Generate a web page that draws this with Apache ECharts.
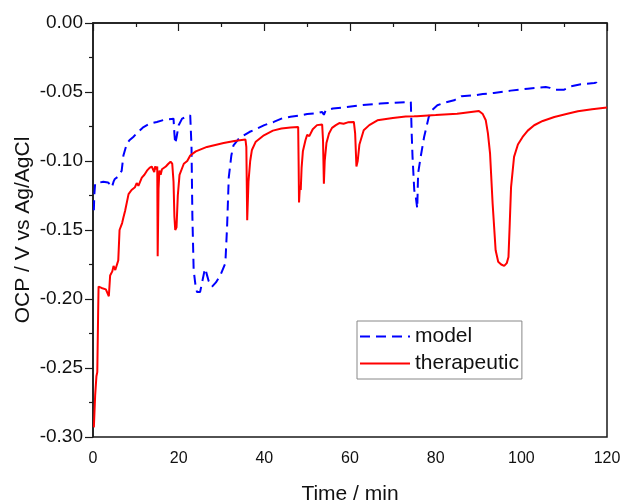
<!DOCTYPE html>
<html><head><meta charset="utf-8">
<script src="https://cdn.jsdelivr.net/npm/echarts@6/dist/echarts.min.js"></script>
<style>html,body{margin:0;padding:0;background:#fff}#c{width:622px;height:500px}</style>
</head><body><div id="c"></div>
<script>
const xTicks = [0, 20, 40, 60, 80, 100, 120];
const yTicks = [-0.30, -0.25, -0.20, -0.15, -0.10, -0.05, 0.00];

const modelTime = [0.2,0.3,0.5,1.0,2.4,3.5,4.0,4.4,4.8,5.1,5.5,6.0,6.7,7.1,7.9,8.5,9.4,10.5,11.8,13.2,14.9,16.8,18.8,19.0,19.2,19.5,20.0,20.8,21.8,22.7,23.0,23.2,23.5,24.0,24.3,25.0,25.4,26.0,26.2,27.0,27.8,28.7,29.7,30.9,31.3,31.7,32.3,32.8,34.0,35.2,36.5,38.3,40.0,42.2,44.0,46.1,48.0,50.0,52.0,53.5,53.9,54.3,56.0,59.3,63.0,67.1,70.5,74.2,74.4,74.6,75.0,75.4,75.6,75.7,75.9,76.5,77.3,78.4,79.2,80.4,82.0,84.3,86.0,89.0,91.0,93.6,97.5,101.5,105.7,106.7,107.7,110.0,111.6,113.9,117.0,117.5,117.9];
const modelOCP = [-0.1357,-0.125,-0.1164,-0.116,-0.115,-0.1155,-0.117,-0.119,-0.115,-0.113,-0.1116,-0.111,-0.107,-0.096,-0.0874,-0.085,-0.0826,-0.079,-0.0754,-0.073,-0.0717,-0.070,-0.0693,-0.080,-0.0874,-0.083,-0.0741,-0.0693,-0.068,-0.0669,-0.090,-0.140,-0.179,-0.192,-0.195,-0.195,-0.195,-0.180,-0.178,-0.187,-0.191,-0.188,-0.183,-0.174,-0.148,-0.1116,-0.096,-0.0886,-0.084,-0.0814,-0.079,-0.0765,-0.074,-0.0717,-0.0693,-0.068,-0.0672,-0.066,-0.0655,-0.0645,-0.0665,-0.0635,-0.062,-0.0609,-0.0595,-0.0584,-0.0578,-0.0572,-0.080,-0.097,-0.121,-0.127,-0.128,-0.1345,-0.109,-0.097,-0.0826,-0.068,-0.063,-0.0596,-0.0578,-0.056,-0.0531,-0.0524,-0.0515,-0.0507,-0.049,-0.0476,-0.0464,-0.047,-0.0483,-0.0483,-0.0459,-0.0444,-0.0435,-0.0432,-0.0451];

const therTime = [0.2,0.5,0.8,1.0,1.2,1.3,2.0,3.0,3.4,3.7,4.0,4.5,4.8,5.2,5.6,5.9,6.2,6.8,7.1,7.5,8.3,9.0,9.8,10.2,10.6,11.4,12.0,12.6,13.2,13.7,14.0,14.3,14.5,14.8,15.0,15.1,15.3,15.5,15.8,16.1,16.5,17.0,17.6,18.1,18.5,18.8,19.0,19.2,19.5,19.8,20.2,21.2,22.0,22.7,24.0,26.6,30.5,33.0,35.6,35.8,36.0,36.3,36.7,37.1,38.0,39.9,42.0,44.0,46.1,47.9,48.0,48.1,48.3,48.5,48.7,49.0,49.6,50.0,50.5,51.3,52.3,53.5,53.7,53.9,54.1,54.5,55.1,55.8,56.7,57.5,58.5,59.5,60.9,61.2,61.5,61.8,62.2,63.2,64.5,66.4,70.0,73.0,75.0,75.3,75.6,80.0,85.0,85.2,85.5,90.1,91.0,91.7,92.2,92.7,93.3,94.0,94.6,95.3,96.0,96.6,97.0,97.3,97.6,98.3,99.2,100.3,101.5,103.0,105.0,107.7,110.5,113.2,116.5,120.0];
const therOCP = [-0.293,-0.27,-0.256,-0.253,-0.21,-0.191,-0.192,-0.193,-0.194,-0.198,-0.183,-0.180,-0.176,-0.179,-0.180,-0.172,-0.150,-0.145,-0.141,-0.136,-0.124,-0.121,-0.119,-0.116,-0.118,-0.112,-0.110,-0.107,-0.105,-0.104,-0.1035,-0.108,-0.104,-0.106,-0.104,-0.169,-0.120,-0.107,-0.110,-0.106,-0.107,-0.104,-0.102,-0.1005,-0.102,-0.115,-0.140,-0.150,-0.148,-0.125,-0.110,-0.102,-0.100,-0.096,-0.093,-0.0898,-0.087,-0.0855,-0.0845,-0.09,-0.143,-0.115,-0.100,-0.092,-0.086,-0.0814,-0.078,-0.0765,-0.0758,-0.0754,-0.100,-0.130,-0.118,-0.121,-0.105,-0.093,-0.085,-0.081,-0.082,-0.077,-0.074,-0.0735,-0.085,-0.1164,-0.100,-0.087,-0.080,-0.076,-0.074,-0.0725,-0.073,-0.072,-0.0717,-0.080,-0.104,-0.100,-0.088,-0.0777,-0.074,-0.0705,-0.0688,-0.0678,-0.0676,-0.069,-0.0675,-0.0667,-0.0657,-0.0665,-0.0655,-0.0638,-0.0660,-0.0705,-0.080,-0.0947,-0.131,-0.1647,-0.173,-0.175,-0.176,-0.174,-0.1696,-0.145,-0.119,-0.097,-0.088,-0.0826,-0.078,-0.0741,-0.071,-0.0681,-0.066,-0.064,-0.0625,-0.0613];

const zip = (a, b) => a.map((v, i) => [v, b[i]]);
const axisColor = '#1a1a1a';
const font = 'Liberation Sans, Arial, sans-serif';

const chart = echarts.init(document.getElementById('c'), null, {renderer: 'canvas'});
chart.setOption({
  animation: false,
  backgroundColor: '#fff',
  grid: {left: 93, right: 15, top: 23, bottom: 63, outerBoundsMode: 'none', containLabel: false,
         show: true, borderColor: axisColor, borderWidth: 1.5, backgroundColor: 'transparent'},
  legend: {
    orient: 'vertical', left: 357, top: 321,
    data: ['model', 'therapeutic'],
    itemWidth: 50, itemHeight: 14, itemGap: 6,
    padding: [5, 3, 5, 2],
    borderColor: '#888', borderWidth: 1,
    itemStyle: {opacity: 0, borderWidth: 0},
    textStyle: {fontFamily: font, fontSize: 21, color: '#111', lineHeight: 20}
  },
  xAxis: {
    type: 'value', min: xTicks[0], max: xTicks[xTicks.length - 1], interval: 20,
    name: 'Time / min', nameLocation: 'middle', nameGap: 47, nameMoveOverlap: false,
    nameTextStyle: {fontFamily: font, fontSize: 21, color: '#111'},
    axisLine: {show: true, lineStyle: {color: axisColor, width: 1.5}},
    axisTick: {show: true, inside: false, length: 8, lineStyle: {color: axisColor, width: 1.2}},
    minorTick: {show: true, splitNumber: 2, length: 4, lineStyle: {color: axisColor, width: 1.2}},
    axisLabel: {fontFamily: font, fontSize: 16, color: '#111', margin: 14},
    splitLine: {show: false}
  },
  yAxis: {
    type: 'value', min: yTicks[0], max: yTicks[yTicks.length - 1], interval: 0.05,
    name: 'OCP / V vs Ag/AgCl', nameLocation: 'middle', nameGap: 59, nameMoveOverlap: false,
    nameTextStyle: {fontFamily: font, fontSize: 21, color: '#111'},
    axisLine: {show: true, lineStyle: {color: axisColor, width: 1.5}},
    axisTick: {show: true, inside: false, length: 8, lineStyle: {color: axisColor, width: 1.2}},
    minorTick: {show: true, splitNumber: 2, length: 4, lineStyle: {color: axisColor, width: 1.2}},
    axisLabel: {fontFamily: font, fontSize: 19, color: '#111', margin: 10, formatter: v => v.toFixed(2)},
    splitLine: {show: false}
  },
  series: [
    {name: 'model', type: 'line', data: zip(modelTime, modelOCP), symbol: 'none', smooth: false,
     lineStyle: {color: '#0000ff', width: 2, type: [10, 6]}, itemStyle: {color: '#0000ff'}, z: 2},
    {name: 'therapeutic', type: 'line', data: zip(therTime, therOCP), symbol: 'none', smooth: false,
     lineStyle: {color: '#ff0000', width: 2}, itemStyle: {color: '#ff0000'}, z: 3}
  ]
});
</script></body></html>
